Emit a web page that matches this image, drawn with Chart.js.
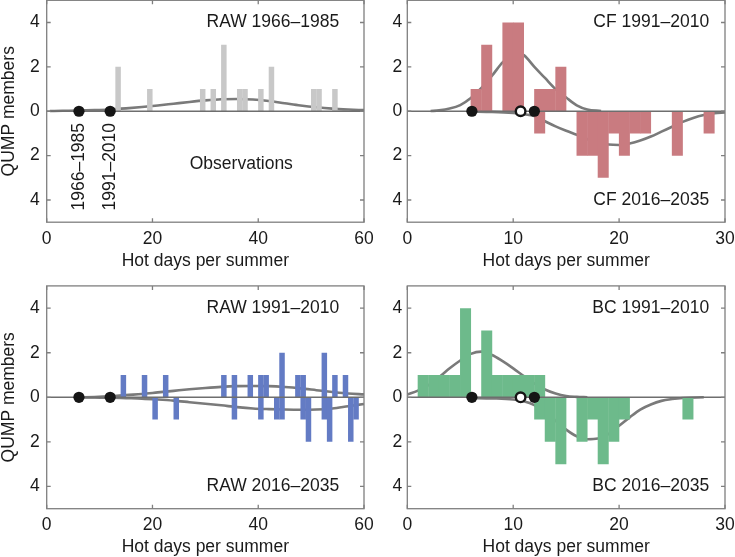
<!DOCTYPE html>
<html>
<head>
<meta charset="utf-8">
<script src="https://cdn.jsdelivr.net/npm/chart.js@4.4.1/dist/chart.umd.min.js"></script>
<style>
  html, body { margin: 0; padding: 0; background: #fff; }
  body { width: 735px; height: 557px; position: relative; overflow: hidden; }
  .panel { position: absolute; }
</style>
</head>
<body>
<div class="panel" style="left:0;top:0;width:380px;height:280px"><canvas id="rawObs"></canvas></div>
<div class="panel" style="left:380px;top:0;width:355px;height:280px"><canvas id="cf"></canvas></div>
<div class="panel" style="left:0;top:280px;width:380px;height:277px"><canvas id="raw"></canvas></div>
<div class="panel" style="left:380px;top:280px;width:355px;height:277px"><canvas id="bc"></canvas></div>
<script>
// ---- ticks ----
const rawDayTicks = [0, 20, 40, 60];
const modelDayTicks = [0, 10, 20, 30];
const memberTicks = [-4, -2, 0, 2, 4];

// ---- mean hot days (dots on the zero line) ----
const obsMeans = [6.1, 12.0];      // observed 1966-1985, 1991-2010
const cfModelMean = [10.7];        // open circle
const bcModelMean = [10.7];

// ---- histograms: bin start (days) and number of members ----
const obsDays = [13, 19, 29, 31, 33, 36, 37, 40, 42, 50, 51, 54];
const obsCounts = [2, 1, 1, 1, 3, 1, 1, 1, 2, 1, 1, 1];

const cfBaseDays = [6, 7, 9, 10, 12, 13, 14];
const cfBaseCounts = [1, 3, 4, 4, 1, 1, 2];
const cfFutDays = [12, 16, 17, 18, 19, 20, 21, 22, 25, 28];
const cfFutCounts = [1, 2, 2, 3, 1, 2, 1, 1, 2, 1];

const rawBaseDays = [14, 18, 22, 33, 35, 38, 40, 41, 44, 47, 48, 52, 54, 56];
const rawBaseCounts = [1, 1, 1, 1, 1, 1, 1, 1, 2, 1, 1, 2, 1, 1];
const rawFutDays = [20, 24, 35, 40, 43, 44, 48, 49, 52, 53, 57, 58];
const rawFutCounts = [1, 1, 1, 1, 1, 1, 1, 2, 1, 2, 2, 1];

const bcBaseDays = [1, 2, 3, 4, 5, 7, 8, 9, 10, 11, 12];
const bcBaseCounts = [1, 1, 1, 1, 4, 3, 1, 1, 1, 1, 1];
const bcFutDays = [12, 13, 14, 16, 17, 18, 19, 20, 26];
const bcFutCounts = [1, 2, 3, 2, 1, 3, 2, 1, 1];

// ---- fitted curves ----
const obsCurveX = [0.6, 3, 6, 9, 12, 15, 18, 21, 24, 27, 30, 33, 36, 39, 42, 45, 48, 51, 54, 57, 60];
const obsCurveY = [0.01, 0.02, 0.03, 0.05, 0.08, 0.13, 0.19, 0.26, 0.34, 0.42, 0.49, 0.54, 0.55, 0.53, 0.46, 0.36, 0.26, 0.18, 0.12, 0.08, 0.05];

const cfBaseCurveX = [2.2, 3, 4, 5, 6, 7, 8, 9, 10, 10.5, 11, 12, 13, 14, 15, 16, 17, 18.3];
const cfBaseCurveY = [0.01, 0.04, 0.12, 0.28, 0.6, 1.05, 1.6, 2.2, 2.55, 2.6, 2.53, 2.0, 1.5, 1.0, 0.62, 0.27, 0.08, 0.01];
const cfFutCurveX = [6, 8, 10, 11, 12, 13, 14, 15, 16, 17, 18, 19, 20, 21, 22, 23, 24, 25, 26, 27, 28, 29, 30];
const cfFutCurveY = [-0.01, -0.03, -0.08, -0.13, -0.22, -0.45, -0.68, -0.88, -1.06, -1.26, -1.41, -1.5, -1.52, -1.45, -1.32, -1.14, -0.92, -0.7, -0.48, -0.3, -0.17, -0.09, -0.05];

const rawCurveX = [6, 9, 12, 15, 18, 21, 24, 27, 30, 33, 36, 39, 42, 45, 48, 51, 54, 57, 60];
const rawBaseCurveY = [0, 0.01, 0.04, 0.1, 0.15, 0.22, 0.29, 0.36, 0.42, 0.47, 0.5, 0.51, 0.5, 0.46, 0.4, 0.32, 0.24, 0.17, 0.13];
const rawFutCurveY = [0, -0.01, -0.02, -0.04, -0.06, -0.1, -0.15, -0.22, -0.29, -0.36, -0.44, -0.5, -0.53, -0.55, -0.56, -0.55, -0.5, -0.4, -0.3];

const bcBaseCurveX = [0, 1, 2, 3, 4, 5, 6, 7, 8, 9, 10, 11, 12, 13, 14, 15, 16, 17];
const bcBaseCurveY = [0.12, 0.3, 0.55, 0.9, 1.3, 1.65, 1.95, 2.05, 1.9, 1.62, 1.3, 0.95, 0.62, 0.35, 0.17, 0.06, 0.02, 0.0];
const bcFutCurveX = [6, 8, 10, 11, 12, 13, 14, 15, 16, 17, 18, 19, 20, 21, 22, 23, 24, 25, 26, 28];
const bcFutCurveY = [-0.03, -0.05, -0.1, -0.18, -0.35, -0.65, -1.05, -1.45, -1.75, -1.88, -1.85, -1.65, -1.28, -0.9, -0.55, -0.32, -0.16, -0.08, -0.03, 0];

Chart.defaults.font.family = '"Liberation Sans", Arial, sans-serif';
Chart.defaults.font.size = 17.5;
Chart.defaults.color = '#1a1a1a';

const FRAME = '#7f7f7f';

function bins(days, counts, sign) {
    return days.map((d, i) => ({ x: d + 0.5, y: sign * counts[i] }));
}
function curve(xs, ys) {
    return xs.map((x, i) => ({ x: x, y: ys[i] }));
}
function atZero(xs) {
    return xs.map(x => ({ x: x, y: 0 }));
}
function noPad(s) {
    s.paddingTop = 0; s.paddingBottom = 0; s.paddingLeft = 0; s.paddingRight = 0;
}

// frame with inward ticks + panel texts
const panelDeco = {
    id: 'panelDeco',
    afterDatasetsDraw(chart, args, opts) {
        const { ctx, chartArea: a } = chart;
        const x = chart.scales.x, y = chart.scales.y;
        ctx.save();
        ctx.strokeStyle = FRAME;
        ctx.lineWidth = 1.3;
        ctx.strokeRect(a.left, a.top, a.right - a.left, a.bottom - a.top);
        ctx.beginPath();
        x.ticks.forEach(t => {
            const px = x.getPixelForValue(t.value);
            ctx.moveTo(px, a.bottom); ctx.lineTo(px, a.bottom - 4);
            ctx.moveTo(px, a.top); ctx.lineTo(px, a.top + 4);
        });
        y.ticks.forEach(t => {
            const py = y.getPixelForValue(t.value);
            ctx.moveTo(a.left, py); ctx.lineTo(a.left + 4, py);
            ctx.moveTo(a.right, py); ctx.lineTo(a.right - 4, py);
        });
        ctx.stroke();

        ctx.fillStyle = '#1a1a1a';
        ctx.font = '17.5px "Liberation Sans", Arial, sans-serif';
        ctx.textBaseline = 'middle';
        (opts.labels || []).forEach(l => {
            const px = x.getPixelForValue(l.x), py = y.getPixelForValue(l.y);
            ctx.save();
            ctx.translate(px, py);
            if (l.rotate) ctx.rotate(-Math.PI / 2);
            ctx.textAlign = l.align || 'center';
            ctx.fillText(l.text, 0, 0);
            ctx.restore();
        });
        ctx.restore();
    }
};

function makePanel(id, p) {
    const xMax = p.xTicks[p.xTicks.length - 1];
    const datasets = [
        { type: 'bar', data: bins(p.upDays, p.upCounts, 1), backgroundColor: p.color, order: 2 },
        { type: 'bar', data: bins(p.downDays, p.downCounts, -1), backgroundColor: p.color, order: 2 },
        { type: 'line', data: [{ x: 0, y: 0 }, { x: xMax, y: 0 }], borderColor: '#6e6e6e', borderWidth: 1.4, pointRadius: 0, order: 1 }
    ];
    p.curves.forEach(c => {
        datasets.push({ type: 'line', data: curve(c[0], c[1]), borderColor: '#7a7a7a', borderWidth: 2.6,
            pointRadius: 0, cubicInterpolationMode: 'monotone', order: 3 });
    });
    datasets.push({ type: 'line', data: atZero(obsMeans), showLine: false, pointRadius: 5.6,
        pointBackgroundColor: '#151515', pointBorderWidth: 0, order: 0 });
    if (p.open) {
        datasets.push({ type: 'line', data: atZero(p.open), showLine: false, pointRadius: 4.8,
            pointBackgroundColor: '#ffffff', pointBorderColor: '#151515', pointBorderWidth: 2.4, order: 0 });
    }

    new Chart(document.getElementById(id), {
        type: 'bar',
        data: { datasets: datasets },
        plugins: [panelDeco],
        options: {
            responsive: true,
            maintainAspectRatio: false,
            animation: false,
            events: [],
            datasets: { bar: { grouped: false, barPercentage: 1.04, categoryPercentage: 1, borderWidth: 0 } },
            layout: { autoPadding: false, padding: { left: 0, right: p.padR, top: p.padT, bottom: 0 } },
            plugins: {
                legend: { display: false },
                tooltip: { enabled: false },
                panelDeco: { labels: p.labels }
            },
            scales: {
                x: {
                    type: 'linear', min: 0, max: xMax, offset: false,
                    grid: { display: false, drawTicks: false, offset: false },
                    border: { display: false },
                    afterBuildTicks: s => { s.ticks = p.xTicks.map(v => ({ value: v })); },
                    afterFit: s => { s.height = p.xH; noPad(s); },
                    ticks: { padding: 6, maxRotation: 0, autoSkip: false },
                    title: { display: true, text: 'Hot days per summer', padding: { top: 0, bottom: p.titlePad }, font: { lineHeight: 1 } }
                },
                y: {
                    type: 'linear', min: -5, max: 5,
                    grid: { display: false, drawTicks: false },
                    border: { display: false },
                    afterBuildTicks: s => { s.ticks = memberTicks.map(v => ({ value: v })); },
                    afterFit: s => { s.width = p.yW; noPad(s); },
                    ticks: { padding: p.yPad, callback: v => Math.abs(v) },
                    title: { display: p.yTitle, text: 'QUMP members', padding: 0, font: { lineHeight: 1.1 } }
                }
            }
        }
    });
}

makePanel('rawObs', {
    xTicks: rawDayTicks, color: '#c8c8c8',
    upDays: obsDays, upCounts: obsCounts, downDays: [], downCounts: [],
    curves: [[obsCurveX, obsCurveY]],
    yW: 46.7, yPad: 7, yTitle: true, padR: 16, padT: 0.3, xH: 57.8, titlePad: 10,
    labels: [
        { text: 'RAW 1966\u20131985', x: 55.3, y: 4, align: 'right' },
        { text: 'Observations', x: 36.8, y: -2.4 },
        { text: '1966\u20131985', x: 6.1, y: -2.5, rotate: true },
        { text: '1991\u20132010', x: 12.0, y: -2.5, rotate: true }
    ]
});

makePanel('cf', {
    xTicks: modelDayTicks, color: '#c97b80',
    upDays: cfBaseDays, upCounts: cfBaseCounts, downDays: cfFutDays, downCounts: cfFutCounts,
    curves: [[cfBaseCurveX, cfBaseCurveY], [cfFutCurveX, cfFutCurveY]],
    open: cfModelMean,
    yW: 27.3, yPad: 5, yTitle: false, padR: 10, padT: 0.3, xH: 57.8, titlePad: 10,
    labels: [
        { text: 'CF 1991\u20132010', x: 28.5, y: 4, align: 'right' },
        { text: 'CF 2016\u20132035', x: 28.5, y: -4, align: 'right' }
    ]
});

makePanel('raw', {
    xTicks: rawDayTicks, color: '#637bc4',
    upDays: rawBaseDays, upCounts: rawBaseCounts, downDays: rawFutDays, downCounts: rawFutCounts,
    curves: [[rawCurveX, rawBaseCurveY], [rawCurveX, rawFutCurveY]],
    yW: 46.7, yPad: 7, yTitle: true, padR: 16, padT: 5.9, xH: 48.3, titlePad: 1,
    labels: [
        { text: 'RAW 1991\u20132010', x: 55.3, y: 4, align: 'right' },
        { text: 'RAW 2016\u20132035', x: 55.3, y: -4, align: 'right' }
    ]
});

makePanel('bc', {
    xTicks: modelDayTicks, color: '#6dba8b',
    upDays: bcBaseDays, upCounts: bcBaseCounts, downDays: bcFutDays, downCounts: bcFutCounts,
    curves: [[bcBaseCurveX, bcBaseCurveY], [bcFutCurveX, bcFutCurveY]],
    open: bcModelMean,
    yW: 27.3, yPad: 5, yTitle: false, padR: 10, padT: 5.9, xH: 48.3, titlePad: 1,
    labels: [
        { text: 'BC 1991\u20132010', x: 28.5, y: 4, align: 'right' },
        { text: 'BC 2016\u20132035', x: 28.5, y: -4, align: 'right' }
    ]
});
</script>
</body>
</html>
